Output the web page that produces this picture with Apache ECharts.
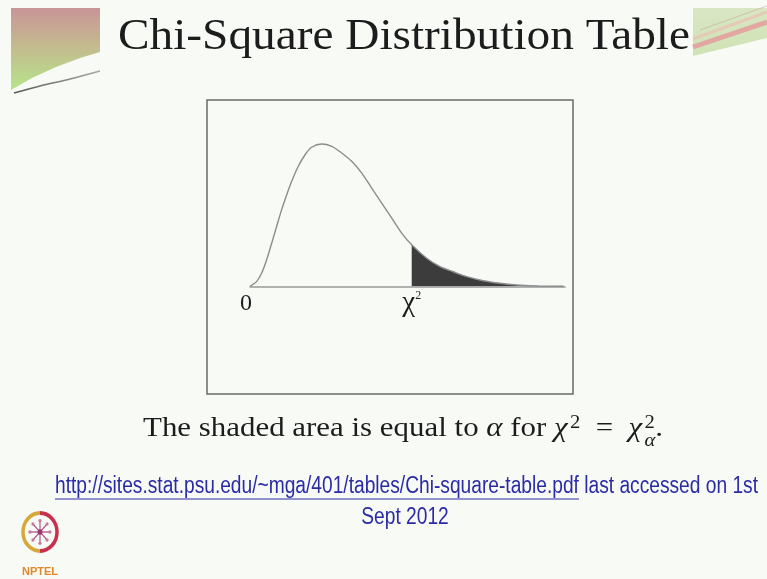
<!DOCTYPE html>
<html>
<head>
<meta charset="utf-8">
<script src="https://cdn.jsdelivr.net/npm/echarts@6/dist/echarts.min.js"></script>
<style>
  html, body { margin: 0; padding: 0; background: #f8faf6; }
  #chart { width: 767px; height: 579px; }
</style>
</head>
<body>
<div id="chart"></div>
<script>
// Sampled density curve (x in χ² units, y as relative height)
const curveX = [0, 0.45, 0.78, 1.11, 1.45, 1.78, 2.11, 2.45, 2.78, 3.22, 3.67, 4.11, 4.78, 5.45, 6.11, 6.78, 7.45, 8.11, 8.78, 9.45, 10.11, 10.78, 11.78, 12.67, 13.55, 14.45, 15.55, 16.67, 17.78, 18.89, 20.9];
const curveY = [0, 0.033, 0.089, 0.177, 0.289, 0.4, 0.511, 0.611, 0.7, 0.8, 0.877, 0.927, 0.949, 0.933, 0.889, 0.833, 0.755, 0.655, 0.555, 0.455, 0.355, 0.277, 0.187, 0.131, 0.097, 0.064, 0.037, 0.02, 0.009, 0.003, 0];
// Critical value where the upper tail (area α) begins
const criticalValue = 10.78;
// Axis tick positions and their labels
const tickValues = [0, criticalValue];
const tickLabels = ['0', 'χ2'];

const titleText = 'Chi-Square Distribution Table';
const sourceUrl = 'http://sites.stat.psu.edu/~mga/401/tables/Chi-square-table.pdf';
const sourceRest = ' last accessed on 1st';
const sourceLine2 = 'Sept 2012';

const curveData = curveX.map((x, i) => [x, curveY[i]]);
const tailData = curveData.filter(p => p[0] >= criticalValue);

// text measuring helper for hand-composed captions
const measureCtx = document.createElement('canvas').getContext('2d');
function textWidth(text, font) {
  measureCtx.font = font;
  return measureCtx.measureText(text).width;
}

const SERIF = '"Liberation Serif", "DejaVu Serif", serif';
const SANS = '"Liberation Sans", Arial, sans-serif';
const INK = '#1c1c1c';
const BLUE = '#2b2ba6';

const graphics = [];

// slide title, stretched to the slide's title width
(function () {
  const font = '44px ' + SERIF;
  const sx = (690 - 118) / textWidth(titleText, font);
  graphics.push({
    type: 'text', x: 118, y: 37, scaleX: sx,
    style: { text: titleText, font: font, fill: INK, verticalAlign: 'middle' }
  });
})();

// frame around the figure
graphics.push({
  type: 'rect', shape: { x: 207, y: 100, width: 366, height: 294 },
  style: { fill: 'none', stroke: '#6a6a6a', lineWidth: 1.5 }, z: -1
});

// caption: "The shaded area is equal to α for χ² = χ²_α."
(function () {
  const fs = 27, small = 18;
  const fN = fs + 'px ' + SERIF, fI = 'italic ' + fs + 'px ' + SERIF, fS = small + 'px ' + SERIF, fSI = 'italic ' + small + 'px ' + SERIF;
  const parts = [
    { t: 'The shaded area is equal to ', f: fN },
    { t: 'α', f: fI },
    { t: ' for ', f: fN },
    { t: 'χ', f: fI },
    { t: '2', f: fS, dy: -10, gap: 2 },
    { t: '  =  ', f: fN },
    { t: 'χ', f: fI },
    { t: '2', f: fS, dy: -10, gap: 2, stackSub: 'α' },
    { t: '.', f: fN }
  ];
  const children = [];
  let x = 0;
  parts.forEach(p => {
    p.w = textWidth(p.t, p.f) + (p.gap || 0);
    if (p.stackSub) p.w = Math.max(p.w, textWidth(p.stackSub, fSI) + (p.gap || 0));
    children.push({
      type: 'text', x: x + (p.gap || 0), y: (p.dy || 0),
      style: { text: p.t, font: p.f, fill: INK, verticalAlign: 'bottom' }
    });
    if (p.stackSub) {
      children.push({
        type: 'text', x: x + (p.gap || 0), y: 8,
        style: { text: p.stackSub, font: fSI, fill: INK, verticalAlign: 'bottom' }
      });
    }
    x += p.w;
  });
  graphics.push({ type: 'group', x: 143, y: 442, scaleX: (663 - 143) / x, children: children });
})();

// source reference (blue, underlined link part)
(function () {
  const font = '23px ' + SANS;
  const full = sourceUrl + sourceRest;
  const left = 55, right = 758;
  const sx = (right - left) / textWidth(full, font);
  graphics.push({
    type: 'text', x: left, y: 487, scaleX: sx,
    style: { text: full, font: font, fill: BLUE, verticalAlign: 'middle' }
  });
  const urlW = textWidth(sourceUrl, font) * sx;
  graphics.push({
    type: 'line', shape: { x1: left, y1: 499, x2: left + urlW, y2: 499 },
    style: { stroke: BLUE, lineWidth: 1.2 }
  });
  const w2 = textWidth(sourceLine2, font) * sx;
  graphics.push({
    type: 'text', x: 405 - w2 / 2, y: 518, scaleX: sx,
    style: { text: sourceLine2, font: font, fill: BLUE, verticalAlign: 'middle' }
  });
})();

// top-left corner ornament
graphics.push({
  type: 'polygon',
  shape: { points: [[11, 8], [100, 8], [100, 52], [80, 58], [56, 67], [32, 78], [11, 90]] },
  style: {
    fill: new echarts.graphic.LinearGradient(0, 0, 0, 1, [
      { offset: 0, color: '#c99597' }, { offset: 0.5, color: '#c3bd8e' }, { offset: 1, color: '#b6e48a' }
    ])
  }
});
graphics.push({
  type: 'polyline', shape: { points: [[14, 93], [40, 86], [70, 79], [100, 71]], smooth: 0.3 },
  style: {
    fill: 'none', lineWidth: 1.6,
    stroke: new echarts.graphic.LinearGradient(0, 0, 1, 0, [
      { offset: 0, color: '#555' }, { offset: 1, color: '#aaa' }
    ])
  }
});

// top-right corner ornament
graphics.push({
  type: 'polygon',
  shape: { points: [[693, 8], [767, 8], [767, 38], [693, 56]] },
  style: {
    fill: new echarts.graphic.LinearGradient(0, 0, 0, 1, [
      { offset: 0, color: '#d9e6c4' }, { offset: 1, color: '#cfe3b4' }
    ])
  }
});
graphics.push({ type: 'line', shape: { x1: 693, y1: 47, x2: 767, y2: 22 }, style: { stroke: '#e49c9c', lineWidth: 5, opacity: 0.85 } });
graphics.push({ type: 'line', shape: { x1: 693, y1: 39, x2: 767, y2: 12 }, style: { stroke: '#e8c4b4', lineWidth: 3, opacity: 0.8 } });
graphics.push({ type: 'line', shape: { x1: 700, y1: 30, x2: 767, y2: 6 }, style: { stroke: '#c9b4a0', lineWidth: 1, opacity: 0.7 } });

// NPTEL emblem
(function () {
  const cx = 40, cy = 532;
  const group = { type: 'group', x: cx, y: cy, scaleY: 1.12, children: [] };
  group.children.push({ type: 'arc', shape: { cx: 0, cy: 0, r: 17, startAngle: Math.PI / 2, endAngle: Math.PI * 1.5 }, style: { stroke: '#d6a83a', lineWidth: 3.5, fill: 'none' } });
  group.children.push({ type: 'arc', shape: { cx: 0, cy: 0, r: 17, startAngle: -Math.PI / 2, endAngle: Math.PI / 2 }, style: { stroke: '#c8304e', lineWidth: 3.5, fill: 'none' } });
  for (let k = 0; k < 8; k++) {
    const a = k * Math.PI / 4;
    group.children.push({ type: 'line', shape: { x1: 0, y1: 0, x2: Math.cos(a) * 10, y2: Math.sin(a) * 10 }, style: { stroke: '#b0588a', lineWidth: 1.2 } });
    group.children.push({ type: 'circle', shape: { cx: Math.cos(a) * 10, cy: Math.sin(a) * 10, r: 1.6 }, style: { fill: '#c77aa0' } });
  }
  group.children.push({ type: 'circle', shape: { cx: 0, cy: 0, r: 2.5 }, style: { fill: '#9a3a6a' } });
  graphics.push(group);
  graphics.push({
    type: 'text', x: cx, y: 572,
    style: { text: 'NPTEL', font: 'bold 11px ' + SANS, fill: '#e0882a', align: 'center', verticalAlign: 'middle' }
  });
})();

const chart = echarts.init(document.getElementById('chart'), null, { renderer: 'canvas' });
chart.setOption({
  backgroundColor: '#f8faf6',
  animation: false,
  grid: { left: 250, top: 136.3, width: 315, height: 150, containLabel: false },
  xAxis: {
    type: 'value', min: 0, max: 21,
    axisLine: { show: true, lineStyle: { color: '#999', width: 1.5 } },
    axisTick: { show: false },
    splitLine: { show: false },
    axisLabel: {
      show: true,
      customValues: tickValues,
      margin: 4,
      formatter: function (v) {
        const i = tickValues.indexOf(v);
        const lab = tickLabels[i] || '';
        if (lab === '0') return '{z|0}';
        return '{c|' + lab.charAt(0) + '}{s|' + lab.slice(1) + '}';
      },
      rich: {
        z: { fontFamily: SERIF, fontSize: 24, color: INK, padding: [0, 8, 0, 0], lineHeight: 26 },
        c: { fontFamily: SERIF, fontSize: 29, color: INK, lineHeight: 26 },
        s: { fontFamily: SERIF, fontSize: 12, color: INK, verticalAlign: 'top', lineHeight: 12 }
      }
    }
  },
  yAxis: { type: 'value', min: 0, max: 1, show: false },
  series: [
    {
      type: 'line', data: tailData, smooth: 0.3, symbol: 'none',
      lineStyle: { width: 0 },
      areaStyle: { color: '#3c3c3c', opacity: 1 },
      z: 2
    },
    {
      type: 'line', data: curveData, smooth: 0.3, symbol: 'none',
      lineStyle: { color: '#8c8c8c', width: 1.4 },
      z: 3
    }
  ],
  graphic: graphics
});
</script>
</body>
</html>
